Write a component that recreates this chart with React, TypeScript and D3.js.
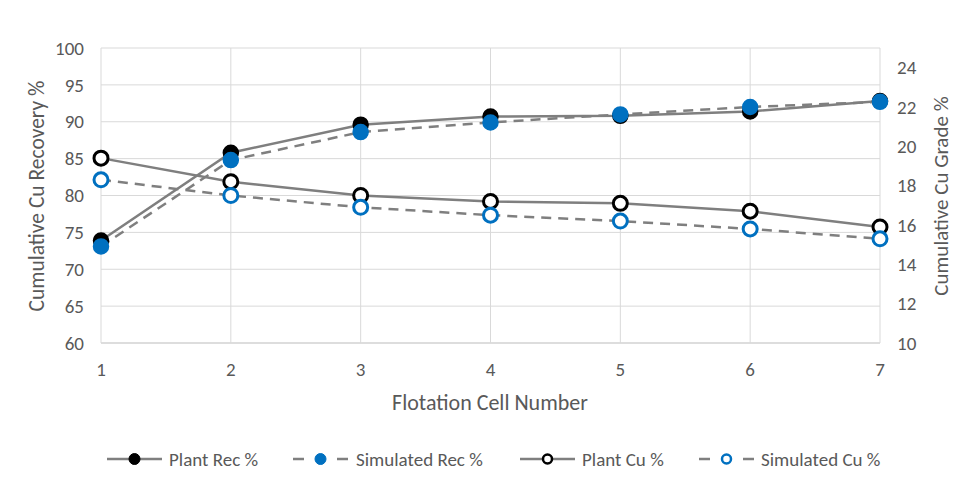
import * as d3 from "d3"

const cells = [1, 2, 3, 4, 5, 6, 7]
const plantRec = [73.9, 85.8, 89.6, 90.7, 90.8, 91.4, 92.8]
const simRec = [73.1, 84.8, 88.6, 89.9, 91.0, 92.0, 92.7]
const plantCu = [19.4, 18.2, 17.5, 17.2, 17.1, 16.7, 15.9]
const simCu = [18.3, 17.5, 16.9, 16.5, 16.2, 15.8, 15.3]
const leftTicks = [60, 65, 70, 75, 80, 85, 90, 95, 100]
const rightTicks = [10, 12, 14, 16, 18, 20, 22, 24]

const font = "Calibri, Carlito, 'Open Sans', sans-serif"
const textColor = "#595959"
const gridColor = "#d9d9d9"
const lineColor = "#7f7f7f"
const blue = "#0070c0"

export default function App() {
  const x = d3.scaleLinear().domain([1, 7]).range([101, 880])
  const yL = d3.scaleLinear().domain([60, 100]).range([343, 48])
  const yR = d3.scaleLinear().domain([10, 25]).range([343, 48])

  const lineL = d3.line<number>().x((_, i) => x(cells[i])).y(d => yL(d))
  const lineR = d3.line<number>().x((_, i) => x(cells[i])).y(d => yR(d))

  // legend entries: marker style follows the series
  const legend = [
    { label: "Plant Rec %", x0: 107, dashed: false, fill: "#000", stroke: "#000", tx: 169 },
    { label: "Simulated Rec %", x0: 293, dashed: true, fill: blue, stroke: blue, tx: 356 },
    { label: "Plant Cu %", x0: 520, dashed: false, fill: "#fff", stroke: "#000", tx: 582 },
    { label: "Simulated Cu %", x0: 699, dashed: true, fill: "#fff", stroke: blue, tx: 761 },
  ]

  return (
    <svg width={980} height={490} style={{ position: "absolute", left: 0, top: 0, background: "#fff" }} fontFamily={font}>
      {leftTicks.map(t => (
        <g key={"l" + t}>
          <line x1={x(1)} x2={x(7)} y1={yL(t)} y2={yL(t)} stroke={gridColor} strokeWidth={1} />
          <text x={84} y={yL(t)} dy="0.35em" textAnchor="end" fontSize={19} fill={textColor}>{t}</text>
        </g>
      ))}
      {cells.map(c => (
        <g key={"x" + c}>
          <line x1={x(c)} x2={x(c)} y1={48} y2={343} stroke={gridColor} strokeWidth={1} />
          <text x={x(c)} y={369} dy="0.35em" textAnchor="middle" fontSize={19} fill={textColor}>{c}</text>
        </g>
      ))}
      {rightTicks.map(t => (
        <text key={"r" + t} x={897} y={yR(t)} dy="0.35em" textAnchor="start" fontSize={19} fill={textColor}>{t}</text>
      ))}
      <line x1={x(1)} x2={x(7)} y1={343} y2={343} stroke={gridColor} strokeWidth={1.3} />

      <text transform="translate(36,196) rotate(-90)" textAnchor="middle" dy="0.35em" fontSize={21.5} fill={textColor}>Cumulative Cu Recovery %</text>
      <text transform="translate(941,196) rotate(-90)" textAnchor="middle" dy="0.35em" fontSize={21} fill={textColor}>Cumulative Cu Grade %</text>
      <text x={490} y={402} dy="0.35em" textAnchor="middle" fontSize={22} fill={textColor}>Flotation Cell Number</text>

      <path d={lineL(plantRec)!} fill="none" stroke={lineColor} strokeWidth={2.5} />
      <path d={lineL(simRec)!} fill="none" stroke={lineColor} strokeWidth={2.5} strokeDasharray="10 7" />
      <path d={lineR(plantCu)!} fill="none" stroke={lineColor} strokeWidth={2.5} />
      <path d={lineR(simCu)!} fill="none" stroke={lineColor} strokeWidth={2.5} strokeDasharray="10 7" />

      {plantRec.map((v, i) => (
        <circle key={"pr" + i} cx={x(cells[i])} cy={yL(v)} r={7.5} fill="#000" stroke="#000" strokeWidth={1.5} />
      ))}
      {simRec.map((v, i) => (
        <circle key={"sr" + i} cx={x(cells[i])} cy={yL(v)} r={7.5} fill={blue} stroke={blue} strokeWidth={1.5} />
      ))}
      {plantCu.map((v, i) => (
        <circle key={"pc" + i} cx={x(cells[i])} cy={yR(v)} r={7} fill="#fff" stroke="#000" strokeWidth={3} />
      ))}
      {simCu.map((v, i) => (
        <circle key={"sc" + i} cx={x(cells[i])} cy={yR(v)} r={7} fill="#fff" stroke={blue} strokeWidth={3} />
      ))}

      {legend.map(l => (
        <g key={l.label}>
          <line x1={l.x0} x2={l.x0 + 55} y1={459} y2={459} stroke={lineColor} strokeWidth={2.5}
            strokeDasharray={l.dashed ? "11 33 11" : undefined} />
          <circle cx={l.x0 + 27.5} cy={459} r={l.fill === "#fff" ? 4.5 : 5.5} fill={l.fill} stroke={l.stroke}
            strokeWidth={l.fill === "#fff" ? 2.5 : 1} />
          <text x={l.tx} y={459} dy="0.35em" fontSize={19} fill={textColor}>{l.label}</text>
        </g>
      ))}
    </svg>
  )
}
